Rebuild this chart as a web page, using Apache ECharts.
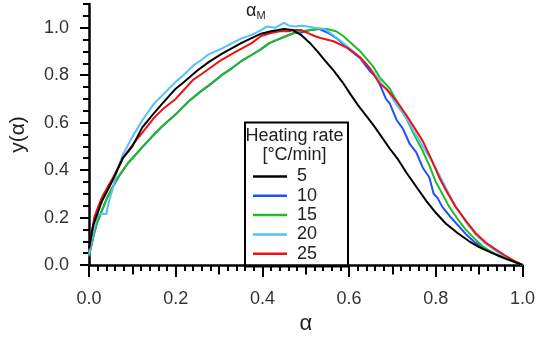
<!DOCTYPE html>
<html>
<head>
<meta charset="utf-8">
<script src="https://cdn.jsdelivr.net/npm/echarts@6/dist/echarts.min.js"></script>
<style>html,body{margin:0;padding:0;background:#fff}#c{width:538px;height:340px}</style>
</head>
<body>
<div id="c"></div>
<script>
// Heating rates [°C/min]
const rates = ['5', '10', '15', '20', '25'];
const xTickLabels = [0.0, 0.2, 0.4, 0.6, 0.8, 1.0];
const yTickLabels = [0.0, 0.2, 0.4, 0.6, 0.8, 1.0];

// [alpha, y(alpha)]
const rate5 = [[0,0.07],[0.01,0.17],[0.02,0.22],[0.03,0.27],[0.05,0.34],[0.078,0.45],[0.1,0.50],[0.123,0.58],[0.15,0.64],[0.169,0.68],[0.2,0.743],[0.215,0.765],[0.25,0.82],[0.276,0.855],[0.306,0.89],[0.352,0.936],[0.397,0.975],[0.42,0.985],[0.45,0.995],[0.47,0.99],[0.489,0.97],[0.51,0.935],[0.527,0.90],[0.545,0.86],[0.564,0.82],[0.585,0.77],[0.603,0.72],[0.62,0.675],[0.641,0.625],[0.656,0.59],[0.675,0.54],[0.694,0.49],[0.713,0.445],[0.732,0.39],[0.755,0.33],[0.778,0.27],[0.80,0.22],[0.823,0.175],[0.85,0.135],[0.877,0.10],[0.90,0.075],[0.929,0.051],[0.96,0.028],[0.98,0.014],[1.0,0.0]];
const rate10 = [[0,0.037],[0.01,0.12],[0.018,0.175],[0.03,0.23],[0.041,0.28],[0.055,0.33],[0.071,0.38],[0.09,0.43],[0.1,0.45],[0.123,0.497],[0.15,0.55],[0.169,0.585],[0.2,0.635],[0.23,0.69],[0.26,0.735],[0.276,0.756],[0.306,0.80],[0.33,0.83],[0.352,0.86],[0.375,0.885],[0.397,0.91],[0.416,0.935],[0.435,0.95],[0.455,0.965],[0.473,0.978],[0.49,0.98],[0.51,0.99],[0.53,0.995],[0.55,0.98],[0.572,0.955],[0.59,0.925],[0.61,0.895],[0.626,0.87],[0.648,0.817],[0.664,0.79],[0.675,0.743],[0.685,0.70],[0.694,0.68],[0.71,0.61],[0.724,0.575],[0.74,0.51],[0.755,0.475],[0.77,0.41],[0.785,0.37],[0.795,0.30],[0.804,0.283],[0.815,0.245],[0.835,0.20],[0.854,0.162],[0.872,0.125],[0.892,0.093],[0.915,0.068],[0.938,0.046],[0.96,0.03],[0.98,0.015],[1.0,0.0]];
const rate15 = [[0,0.037],[0.01,0.12],[0.018,0.175],[0.03,0.23],[0.041,0.28],[0.055,0.33],[0.071,0.38],[0.09,0.43],[0.1,0.45],[0.123,0.497],[0.15,0.55],[0.169,0.585],[0.2,0.635],[0.23,0.69],[0.26,0.735],[0.276,0.756],[0.306,0.80],[0.33,0.83],[0.352,0.86],[0.375,0.885],[0.397,0.91],[0.416,0.935],[0.435,0.95],[0.455,0.965],[0.473,0.978],[0.49,0.985],[0.511,0.99],[0.53,0.995],[0.549,0.995],[0.57,0.985],[0.587,0.964],[0.605,0.935],[0.626,0.90],[0.64,0.87],[0.656,0.835],[0.671,0.79],[0.694,0.743],[0.713,0.68],[0.732,0.618],[0.75,0.55],[0.77,0.48],[0.785,0.42],[0.80,0.35],[0.815,0.30],[0.831,0.245],[0.85,0.195],[0.869,0.149],[0.89,0.11],[0.907,0.08],[0.925,0.058],[0.945,0.037],[0.97,0.02],[1.0,0.0]];
const rate20 = [[0,0.045],[0.008,0.12],[0.015,0.18],[0.02,0.21],[0.025,0.215],[0.035,0.215],[0.04,0.215],[0.045,0.26],[0.056,0.33],[0.065,0.40],[0.078,0.465],[0.1,0.54],[0.123,0.61],[0.15,0.68],[0.169,0.715],[0.2,0.772],[0.215,0.795],[0.24,0.84],[0.26,0.865],[0.276,0.888],[0.306,0.912],[0.33,0.935],[0.352,0.955],[0.375,0.97],[0.397,0.99],[0.41,1.005],[0.43,1.0],[0.45,1.02],[0.46,1.01],[0.473,1.005],[0.49,1.008],[0.504,1.005],[0.52,1.0],[0.541,0.996],[0.555,0.98],[0.572,0.957],[0.59,0.93],[0.61,0.90],[0.625,0.875],[0.641,0.846],[0.655,0.815],[0.667,0.784],[0.69,0.73],[0.71,0.675],[0.732,0.62],[0.75,0.56],[0.77,0.50],[0.79,0.44],[0.808,0.38],[0.83,0.30],[0.846,0.245],[0.87,0.18],[0.892,0.128],[0.915,0.09],[0.938,0.06],[0.96,0.035],[0.98,0.016],[1.0,0.0]];
const rate25 = [[0,0.066],[0.012,0.2],[0.02,0.24],[0.03,0.286],[0.045,0.335],[0.056,0.37],[0.078,0.45],[0.1,0.505],[0.123,0.558],[0.15,0.62],[0.169,0.655],[0.2,0.70],[0.215,0.73],[0.24,0.78],[0.26,0.805],[0.276,0.826],[0.306,0.865],[0.33,0.89],[0.352,0.912],[0.375,0.935],[0.397,0.965],[0.42,0.978],[0.44,0.985],[0.46,0.985],[0.473,0.99],[0.49,0.99],[0.504,0.978],[0.52,0.965],[0.534,0.957],[0.564,0.943],[0.595,0.916],[0.626,0.874],[0.645,0.835],[0.656,0.805],[0.671,0.763],[0.686,0.743],[0.71,0.69],[0.732,0.632],[0.75,0.58],[0.77,0.522],[0.79,0.445],[0.808,0.369],[0.825,0.31],[0.846,0.245],[0.87,0.185],[0.892,0.134],[0.915,0.095],[0.938,0.066],[0.96,0.04],[0.98,0.018],[1.0,0.0]];

const seriesData = [rate5, rate10, rate15, rate20, rate25];
const colors = ['#000000', '#1f4fff', '#22bb22', '#55bfff', '#ee1111'];

function range(a, b, step) { const r = []; for (let v = a; v <= b + 1e-9; v += step) r.push(+v.toFixed(4)); return r; }

const font = 'Liberation Sans';
const chart = echarts.init(document.getElementById('c'), null, {renderer: 'canvas'});
const hidden = {show: false};
chart.setOption({
  animation: false,
  textStyle: {fontFamily: font},
  grid: {left: 86, right: 14, top: 4, bottom: 71},
  xAxis: [
    {type: 'value', min: 0, max: 1, interval: 0.2, offset: 1,
     axisLine: {lineStyle: {color: '#000', width: 2.5}},
     axisTick: {length: 12, lineStyle: {color: '#000', width: 2}, customValues: xTickLabels},
     axisLabel: {customValues: xTickLabels, formatter: v => v.toFixed(1), fontSize: 18, color: '#333', margin: 24, fontFamily: font},
     splitLine: hidden,
     name: 'α', nameLocation: 'middle', nameGap: 47, nameTextStyle: {fontSize: 22, color: '#222', fontFamily: font}},
    {type: 'value', min: 0, max: 1, position: 'bottom', offset: 1, axisLine: hidden, splitLine: hidden, axisLabel: hidden,
     axisTick: {length: 6, lineStyle: {color: '#000', width: 2}, customValues: range(0, 1, 0.02)}},
    {type: 'value', min: 0, max: 1, position: 'bottom', offset: 1, axisLine: hidden, splitLine: hidden, axisLabel: hidden,
     axisTick: {length: 8.5, lineStyle: {color: '#000', width: 2}, customValues: range(0.1, 0.9, 0.2)}}
  ],
  yAxis: [
    {type: 'value', min: 0, max: 1.1, interval: 0.2, offset: 2,
     axisLine: {show: true, lineStyle: {color: '#000', width: 2.5}},
     axisTick: {show: true, length: 9, lineStyle: {color: '#000', width: 2}, customValues: yTickLabels},
     axisLabel: {customValues: yTickLabels, formatter: v => v.toFixed(1), fontSize: 18, color: '#333', margin: 18, align: 'right', fontFamily: font},
     splitLine: hidden,
     name: 'y(α)', nameLocation: 'middle', nameGap: 58, nameRotate: 90, nameTextStyle: {fontSize: 21, color: '#222', fontFamily: font}},
    {type: 'value', min: 0, max: 1.1, position: 'left', offset: 2, axisLine: hidden, splitLine: hidden, axisLabel: hidden,
     axisTick: {show: true, length: 6, lineStyle: {color: '#000', width: 2}, customValues: range(0, 1.1, 0.05)}}
  ],
  legend: {
    data: rates, orient: 'vertical', left: 248, top: 162,
    icon: 'rect', itemWidth: 34, itemHeight: 2.5, itemGap: 0.3,
    textStyle: {fontSize: 18, color: '#222', lineHeight: 19, padding: [0, 0, 0, 5], fontFamily: font}
  },
  graphic: [
    {type: 'rect', left: 242.5, top: 120, shape: {width: 103, height: 144}, style: {fill: 'none', stroke: '#000', lineWidth: 2}, z: 0},
    {type: 'text', x: 294.5, y: 136, style: {text: 'Heating rate', fontSize: 18, fill: '#222', align: 'center', verticalAlign: 'middle', fontFamily: font}},
    {type: 'text', x: 294.5, y: 155, style: {text: '[°C/min]', fontSize: 18, fill: '#222', align: 'center', verticalAlign: 'middle', fontFamily: font}},
    {type: 'text', x: 246, y: 2, style: {rich: {a: {fontSize: 18, fill: '#222', fontFamily: font}, s: {fontSize: 11, fill: '#222', fontFamily: font, padding: [8, 0, 0, 0]}}, text: '{a|α}{s|M}'}}
  ],
  series: rates.map((r, i) => ({
    name: r, type: 'line', xAxisIndex: 0, yAxisIndex: 0, data: seriesData[i],
    showSymbol: false, symbol: 'none', lineStyle: {color: colors[i], width: 2}, itemStyle: {color: colors[i]}, z: 2 + (i === 0 ? 1 : 0)
  }))
});
</script>
</body>
</html>
